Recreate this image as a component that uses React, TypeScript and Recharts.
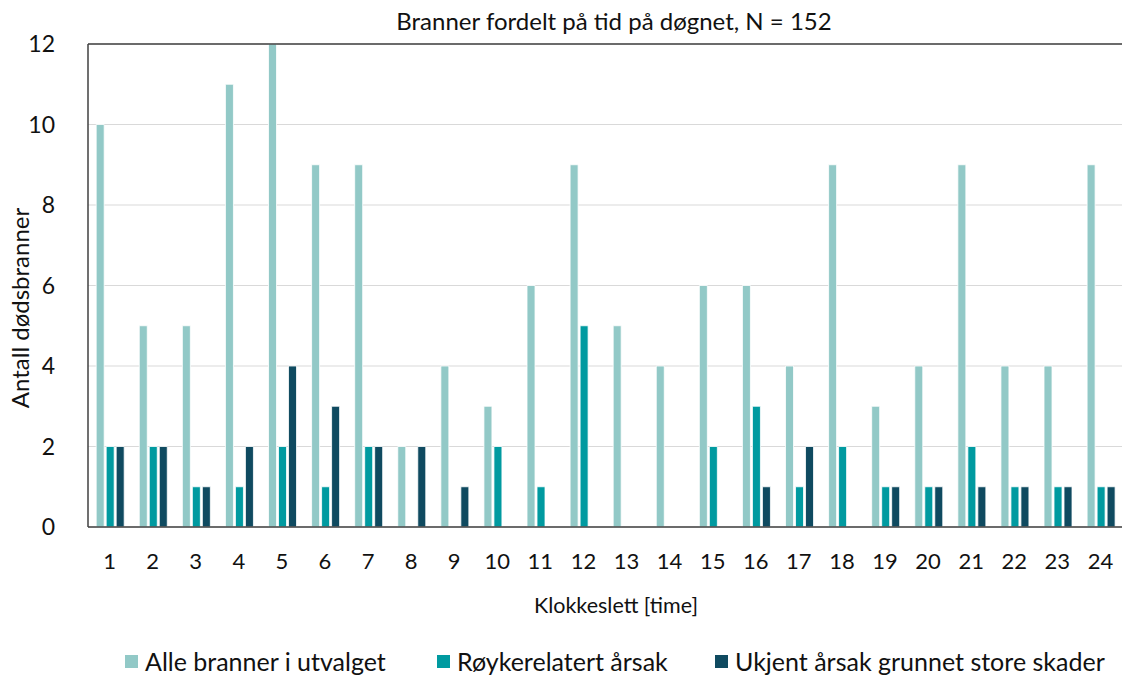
import { BarChart, Bar, XAxis, YAxis, CartesianGrid, Legend, Label, ReferenceLine } from "recharts"

const TITLE = "Branner fordelt på tid på døgnet, N = 152"
const X_TITLE = "Klokkeslett [time]"
const Y_TITLE = "Antall dødsbranner"

const HOURS = [
  "1", "2", "3", "4", "5", "6", "7", "8", "9", "10", "11", "12",
  "13", "14", "15", "16", "17", "18", "19", "20", "21", "22", "23", "24",
]
const ALLE = [10, 5, 5, 11, 12, 9, 9, 2, 4, 3, 6, 9, 5, 4, 6, 6, 4, 9, 3, 4, 9, 4, 4, 9]
const ROYK = [2, 2, 1, 1, 2, 1, 2, 0, 0, 2, 1, 5, 0, 0, 2, 3, 1, 2, 1, 1, 2, 1, 1, 1]
const UKJENT = [2, 2, 1, 2, 4, 3, 2, 2, 1, 0, 0, 0, 0, 0, 0, 1, 2, 0, 1, 1, 1, 1, 1, 1]
const Y_TICKS = [0, 2, 4, 6, 8, 10, 12]

const SERIES = [
  { key: "alle", name: "Alle branner i utvalget", color: "#92c9c7" },
  { key: "royk", name: "Røykerelatert årsak", color: "#009aa0" },
  { key: "ukjent", name: "Ukjent årsak grunnet store skader", color: "#0f4a60" },
]

const data = HOURS.map((h, i) => ({
  hour: h,
  alle: ALLE[i],
  royk: ROYK[i],
  ukjent: UKJENT[i],
}))

const FONT = "Lato, 'Noto Sans', sans-serif"
const AXIS = "#404040"
const TEXT = "#111"
// left edge of each legend entry, px
const LEGEND_X = [125, 437, 715]

function LegendRow() {
  return (
    <div style={{ position: "relative", height: 28, width: 1123, fontFamily: FONT, fontSize: 25, color: TEXT }}>
      {SERIES.map((s, i) => (
        <div
          key={s.key}
          style={{
            position: "absolute",
            left: LEGEND_X[i],
            top: 0,
            height: 28,
            display: "flex",
            alignItems: "center",
            gap: 7,
            whiteSpace: "nowrap",
          }}
        >
          <span style={{ width: 13, height: 13, background: s.color, display: "inline-block" }} />
          <span>{s.name}</span>
        </div>
      ))}
    </div>
  )
}

export default function App() {
  return (
    <div style={{ position: "absolute", left: 0, top: 0, width: 1123, height: 675, background: "#fff" }}>
      <BarChart
        width={1123}
        height={675}
        data={data}
        margin={{ top: 44, right: 1, bottom: 0, left: 0 }}
        barCategoryGap="19%"
        barGap={2}
        style={{ fontFamily: FONT }}
      >
        <CartesianGrid vertical={false} stroke="#d9d9d9" strokeWidth={1.2} />
        <XAxis
          dataKey="hour"
          height={120}
          tickSize={0}
          tickMargin={26}
          axisLine={{ stroke: AXIS, strokeWidth: 1.5 }}
          tick={{ fontSize: 22, fill: TEXT }}
          interval={0}
        >
          <Label
            content={() => (
              <text x={616} y={613} textAnchor="middle" fontSize={21.5} fill={TEXT} fontFamily={FONT}>
                {X_TITLE}
              </text>
            )}
          />
        </XAxis>
        <YAxis
          width={88}
          domain={[0, 12]}
          ticks={Y_TICKS}
          tickSize={0}
          tickMargin={33}
          axisLine={{ stroke: AXIS, strokeWidth: 1.5 }}
          tick={{ fontSize: 23, fill: TEXT }}
        >
          <Label
            content={() => (
              <text
                x={29}
                y={308}
                textAnchor="middle"
                fontSize={24}
                fill={TEXT}
                fontFamily={FONT}
                transform="rotate(-90, 29, 308)"
              >
                {Y_TITLE}
              </text>
            )}
          />
        </YAxis>
        <ReferenceLine
          y={12}
          stroke={AXIS}
          strokeWidth={1.5}
          label={() => (
            <text x={614} y={30} textAnchor="middle" fontSize={24} fill={TEXT} fontFamily={FONT}>
              {TITLE}
            </text>
          )}
        />
        <Legend verticalAlign="bottom" content={<LegendRow />} />
        {SERIES.map((s) => (
          <Bar
            key={s.key}
            dataKey={s.key}
            name={s.name}
            fill={s.color}
            stroke="#ffffff"
            strokeWidth={0.8}
            isAnimationActive={false}
          />
        ))}
      </BarChart>
    </div>
  )
}
